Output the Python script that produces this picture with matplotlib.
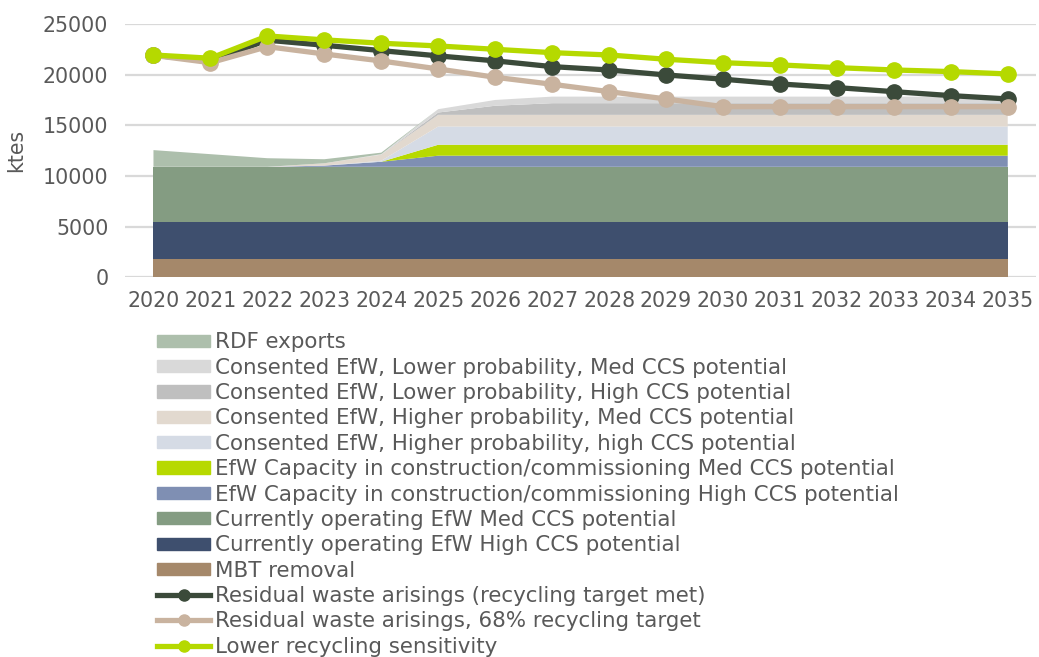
import matplotlib
matplotlib.use("Agg")
import matplotlib.pyplot as plt
from matplotlib.patches import Patch
from matplotlib.lines import Line2D

plt.rcParams.update({
    "font.family": ["DejaVu Sans"],
    "text.color": "#595959",
    "axes.labelcolor": "#595959",
    "xtick.color": "#595959",
    "ytick.color": "#595959",
})

years = list(range(2020, 2036))

# stacked capacity layers (ktes), bottom to top
mbt_removal =          [1800] * 16
current_high_ccs =     [3650] * 16
current_med_ccs =      [5450] * 16
construction_high =    [0, 0, 0, 120, 500] + [1100] * 11
construction_med =     [0, 0, 0, 0, 0] + [1080] * 11
consented_hi_high =    [0, 0, 0, 0, 100] + [1800] * 11
consented_hi_med =     [0, 0, 0, 230, 600] + [1150] * 11
consented_lo_high =    [0, 0, 0, 0, 0, 230, 900] + [1150] * 9
consented_lo_med =     [0, 0, 0, 0, 50, 330, 570] + [650] * 9
rdf_exports =          [1650, 1250, 850, 400, 150] + [0] * 11

# lines (ktes)
residual_target_met = [21900, 21400, 23400, 22900, 22370, 21850, 21360, 20790,
                       20460, 19970, 19550, 19080, 18720, 18320, 17930, 17600]
residual_68pct =      [21900, 21180, 22760, 22040, 21350, 20560, 19740, 19050,
                       18320, 17600, 16840, 16840, 16840, 16840, 16840, 16840]
lower_recycling =     [21940, 21620, 23820, 23430, 23100, 22830, 22500, 22170,
                       21940, 21520, 21180, 20960, 20690, 20460, 20300, 20070]

layers = [
    (mbt_removal, "#a5886a", "MBT removal"),
    (current_high_ccs, "#3e4f6e", "Currently operating EfW High CCS potential"),
    (current_med_ccs, "#849c82", "Currently operating EfW Med CCS potential"),
    (construction_high, "#7f8fb3", "EfW Capacity in construction/commissioning High CCS potential"),
    (construction_med, "#b7d900", "EfW Capacity in construction/commissioning Med CCS potential"),
    (consented_hi_high, "#d5dbe5", "Consented EfW, Higher probability, high CCS potential"),
    (consented_hi_med, "#e2d9cf", "Consented EfW, Higher probability, Med CCS potential"),
    (consented_lo_high, "#bfbfbf", "Consented EfW, Lower probability, High CCS potential"),
    (consented_lo_med, "#d9d9d9", "Consented EfW, Lower probability, Med CCS potential"),
    (rdf_exports, "#adbfac", "RDF exports"),
]
lines = [
    (residual_target_met, "#3b4a3a", "Residual waste arisings (recycling target met)"),
    (residual_68pct, "#c9b39f", "Residual waste arisings, 68% recycling target"),
    (lower_recycling, "#b5d900", "Lower recycling sensitivity"),
]

fig = plt.figure(figsize=(10.39, 6.57), dpi=100)
ax = fig.add_axes([0.1203, 0.578, 0.877, 0.3855])

ax.stackplot(years, [l[0] for l in layers], colors=[l[1] for l in layers],
             linewidth=0, zorder=2)
for vals, col, lab in lines:
    ax.plot(years, vals, color=col, lw=3.8, marker="o", ms=11,
            zorder=5, clip_on=False)

ax.set_xlim(2019.5, 2035.5)
ax.set_ylim(0, 25000)
ax.set_yticks(range(0, 25001, 5000))
ax.set_xticks(years)
ax.tick_params(axis="both", length=0, labelsize=14.8)
ax.tick_params(axis="x", pad=10)
ax.tick_params(axis="y", pad=12)
ax.grid(axis="y", color="#d9d9d9", lw=1.6, zorder=0)
ax.set_axisbelow(True)
for s in ax.spines.values():
    s.set_visible(False)
ax.set_ylabel("ktes", fontsize=14.8, labelpad=12)

handles = [Patch(color=c, label=lab) for _, c, lab in reversed(layers)]
handles += [Line2D([], [], color=c, lw=3.8, marker="o", ms=8, label=lab)
            for _, c, lab in lines]
fig.legend(handles=handles, loc="upper left", bbox_to_anchor=(0.151, 0.494),
           frameon=False, fontsize=15.4, handlelength=2.5, handleheight=0.5,
           handletextpad=0.23, labelspacing=0.25, borderpad=0, borderaxespad=0)

fig.savefig("out.png", dpi=100, facecolor="white")
